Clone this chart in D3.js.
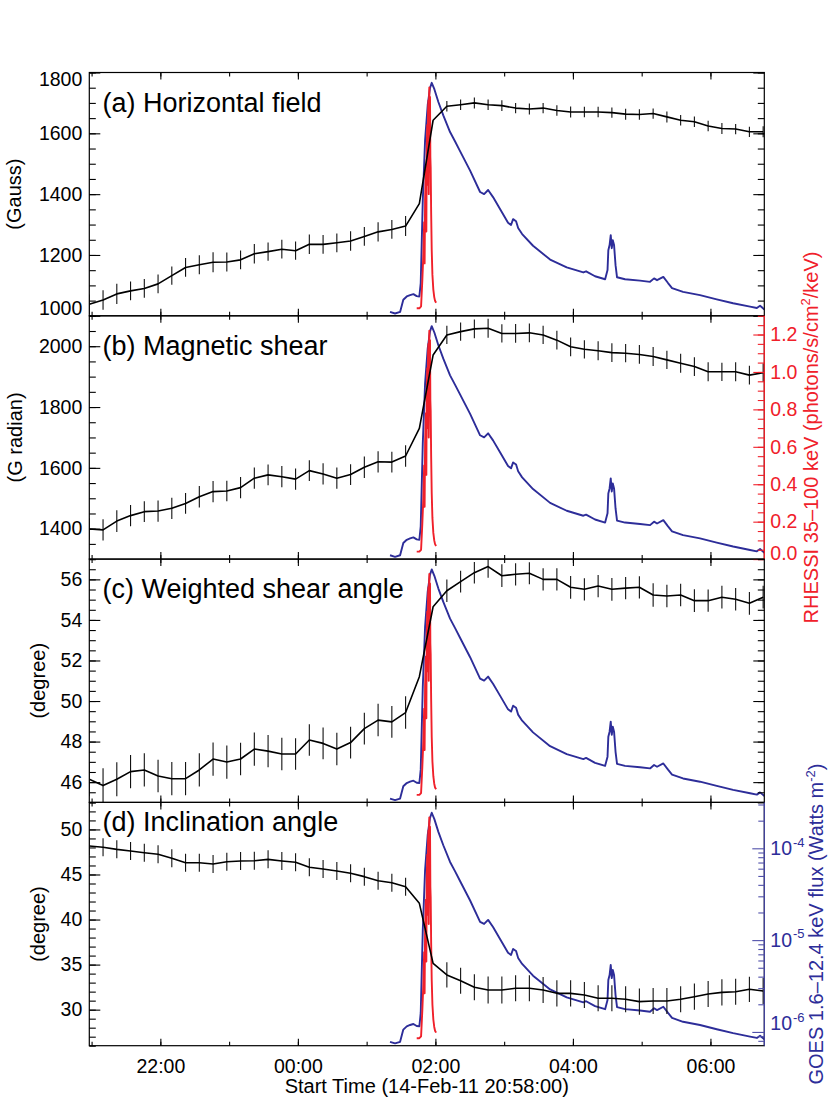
<!DOCTYPE html>
<html><head><meta charset="utf-8"><title>HMI parameters vs GOES/RHESSI</title>
<script src="https://cdn.jsdelivr.net/npm/d3@7/dist/d3.min.js"></script>
<style>html,body{margin:0;padding:0;background:#fff;}svg{display:block;}</style>
</head><body><div id="chart"></div>
<script>
// ---------------- DATA ----------------
// HMI samples: minutes after 14-Feb-11 20:58:00
const hmiMinutes = [0,12,24,36,48,60,72,84,96,108,120,132,144,156,168,180,192,204,216,228,240,252,264,276,288,300,312,324,336,348,360,372,384,396,408,420,432,444,456,468,480,492,504,516,528,540,552,564,576,588];
const horizontalField = [1038,1052,1072,1082,1090,1105,1132,1159,1168,1176,1177,1184,1204,1211,1219,1214,1235,1235,1240,1246,1261,1276,1284,1295,1369,1643,1689,1694,1700,1694,1691,1683,1680,1683,1675,1670,1670,1670,1668,1663,1662,1665,1654,1643,1638,1624,1616,1614,1605,1605];
const horizontalErr = [32,32,33,31,31,31,30,31,31,33,31,31,32,30,31,30,32,31,31,32,31,32,31,33,0,0,17,17,18,17,18,17,18,17,17,18,17,17,17,18,17,17,18,17,17,17,18,17,17,18];
const magneticShear = [1399,1396,1425,1443,1456,1458,1467,1483,1505,1522,1524,1535,1566,1577,1571,1563,1591,1580,1566,1578,1602,1620,1619,1639,1730,1971,2037,2048,2057,2059,2042,2042,2044,2037,2020,1998,1990,1985,1979,1977,1973,1966,1955,1944,1933,1916,1916,1916,1905,1913];
const magneticShearErr = [35,35,36,35,34,35,35,34,35,35,34,35,35,34,35,35,34,35,35,34,35,35,34,35,0,0,30,30,31,31,30,31,31,30,31,31,30,31,31,30,31,31,30,31,31,31,30,31,31,30];
const shearAngle = [46.14,45.83,46.14,46.52,46.60,46.30,46.17,46.17,46.60,47.14,46.99,47.14,47.63,47.53,47.39,47.39,48.08,47.91,47.63,47.95,48.64,49.06,48.97,49.43,51.20,54.65,55.44,55.89,56.33,56.63,56.18,56.25,56.30,56.00,56.00,55.61,55.51,55.67,55.51,55.57,55.61,55.23,55.18,55.23,54.95,54.95,55.12,55.02,54.82,55.12];
const shearAngleErr = [0.84,0.86,0.84,0.82,0.82,0.80,0.82,0.82,0.82,0.82,0.82,0.80,0.82,0.80,0.80,0.78,0.78,0.78,0.80,0.78,0.78,0.80,0.78,0.80,0,0,0.55,0.54,0.53,0.55,0.56,0.55,0.54,0.55,0.55,0.56,0.55,0.55,0.56,0.55,0.55,0.58,0.56,0.55,0.56,0.55,0.56,0.55,0.56,0.56];
const inclination = [48.16,48.02,47.79,47.61,47.42,47.24,46.80,46.31,46.31,46.16,46.42,46.50,46.53,46.68,46.50,46.35,45.80,45.61,45.39,45.13,44.76,44.31,44.09,43.65,41.80,35.14,33.85,33.21,32.48,32.18,32.18,32.37,32.37,32.18,31.81,31.81,31.63,31.26,31.26,31.15,30.89,30.96,30.96,31.15,31.44,31.74,31.92,31.99,32.26,32.07];
const inclinationErr = [1.0,1.0,1.0,1.0,1.0,1.0,1.0,1.0,1.0,1.0,1.0,1.0,1.0,1.0,1.0,1.0,1.0,1.0,1.0,1.0,1.0,1.0,1.0,1.0,0,0,1.4,1.45,1.45,1.5,1.5,1.45,1.45,1.45,1.45,1.45,1.45,1.45,1.45,1.45,1.45,1.45,1.45,1.45,1.45,1.45,1.45,1.45,1.4,1.45];

// GOES 1.6-12.4 keV flux (W m^-2), minutes after start
const goesMinutes = [262.4,266.8,271.2,274.0,277.0,279.9,282.8,285.7,288.0,289.2,291.0,293.0,295.3,297.3,298.8,301.1,304.6,308.9,314.8,319.2,323.5,332.3,341.0,344.5,348.0,352.3,358.4,365.4,368.0,369.8,372.4,374.2,377.7,387.2,402.1,416.6,431.1,433.5,441.3,450.1,452.2,452.9,454.0,455.0,455.9,456.8,457.9,459.2,460.5,467.5,480.6,489.3,492.8,495.4,500.9,505.0,508.5,518.1,532.9,547.5,561.8,576.6,582.5,585.3,589.1];
const goesFlux = [7.8e-7,7.5e-7,7.8e-7,1.06e-6,1.15e-6,1.19e-6,1.22e-6,1.16e-6,1.15e-6,1.61e-6,1.29e-5,5.8e-5,1.40e-4,2.14e-4,2.44e-4,2.08e-4,1.51e-4,1.08e-4,7.1e-5,5.6e-5,4.4e-5,2.7e-5,1.58e-5,1.50e-5,1.66e-5,1.39e-5,1.03e-5,7.3e-6,6.9e-6,8.0e-6,7.6e-6,6.4e-6,5.5e-6,4.1e-6,2.9e-6,2.38e-6,2.10e-6,2.16e-6,1.91e-6,1.77e-6,2.23e-6,3.67e-6,4.17e-6,5.36e-6,3.86e-6,4.72e-6,4.17e-6,2.52e-6,1.86e-6,1.77e-6,1.71e-6,1.66e-6,1.81e-6,1.73e-6,1.88e-6,1.61e-6,1.42e-6,1.29e-6,1.19e-6,1.07e-6,9.7e-7,8.9e-7,8.6e-7,9.1e-7,8.3e-7];

// RHESSI 35-100 keV (photons/s/cm^2/keV), minutes after start
const rhessiMinutes = [285.7,288.0,289.5,290.6,291.5,292.2,292.6,293.0,293.7,294.1,294.4,294.9,295.3,295.6,295.9,296.2,296.5,296.7,297.0,297.3,297.6,297.9,298.3,298.8,299.4,300.2,301.0,301.7,302.6];
const rhessiFlux = [0.04,0.04,0.05,0.19,0.33,0.50,0.28,0.62,0.78,0.45,0.88,1.02,0.70,1.10,1.15,0.65,1.18,1.22,0.95,1.17,0.85,0.79,0.55,0.35,0.22,0.14,0.10,0.08,0.07];

// Tick labels
const timeTickLabels = ["22:00","00:00","02:00","04:00","06:00"];
const ticksA = [1000,1200,1400,1600,1800];
const ticksB = [1400,1600,1800,2000];
const ticksC = [46,48,50,52,54,56];
const ticksD = [30,35,40,45,50];
const rhessiTicks = [0.0,0.2,0.4,0.6,0.8,1.0,1.2];
const goesTicks = [1e-6,1e-5,1e-4];

// ---------------- LAYOUT ----------------
const FONT = '"Liberation Sans", Arial, Helvetica, sans-serif';
const BLUE = "#2d2d99", RED = "#f0202a";
const X0 = 89.3, X1 = 764.3, TOP0 = 72.5, PH = 243.3;
const t0 = Date.UTC(2011, 1, 14, 20, 58, 0);
const toDate = m => new Date(t0 + m * 60000);
const x = d3.scaleUtc().domain([toDate(0), toDate(589)]).range([X0, X1]);
const goesDomain = [Math.pow(10, -6.15), Math.pow(10, -3.5)];
const rhessiDomain = [0, 1.3];

const panels = [
  {label: "(a) Horizontal field", title: "(Gauss)", v: horizontalField, e: horizontalErr, domain: [1000, 1800], ticks: ticksA, minorStep: 50, labelDy: 39, titleX: 21},
  {label: "(b) Magnetic shear", title: "(G radian)", v: magneticShear, e: magneticShearErr, domain: [1300, 2100], ticks: ticksB, minorStep: 50, labelDy: 39, titleX: 21.5},
  {label: "(c) Weighted shear angle", title: "(degree)", v: shearAngle, e: shearAngleErr, domain: [45, 57], ticks: ticksC, minorStep: 0.5, labelDy: 39, titleX: 45},
  {label: "(d) Inclination angle", title: "(degree)", v: inclination, e: inclinationErr, domain: [26, 53], ticks: ticksD, minorStep: 1, labelDy: 28.3, titleX: 45}
];

const svg = d3.select("#chart").append("svg")
  .attr("width", 830).attr("height", 1111)
  .attr("font-family", FONT);
svg.append("rect").attr("width", 830).attr("height", 1111).attr("fill", "#fff");
const defs = svg.append("defs");

function styleAxis(g, color, size) {
  g.attr("font-family", FONT).attr("font-size", size || 19.5).attr("color", color || "#000");
  g.select(".domain").remove();
  g.selectAll(".tick line").attr("stroke-width", 1.1);
}
function minorValues(domain, step) {
  const out = [];
  const s = Math.ceil(domain[0] / step - 1e-9), e = Math.floor(domain[1] / step + 1e-9);
  for (let i = s; i <= e; i++) out.push(+(i * step).toFixed(6));
  return out;
}
function clampLabels(g, scale, top, bot, loM, hiM) {
  g.selectAll(".tick text").attr("y", d => {
    const py = scale(d);
    if (py < top + loM) return top + loM - py;
    if (py > bot - hiM) return bot - hiM - py;
    return 0;
  });
}

const hourTicks = x.ticks(d3.utcHour.every(1));
const majorDates = timeTickLabels.map(s => {
  const [h, m] = s.split(":").map(Number);
  const day = h < 20 ? 15 : 14;
  return new Date(Date.UTC(2011, 1, day, h, m, 0));
});

panels.forEach((p, k) => {
  const top = TOP0 + k * PH, bot = top + PH;
  const y = d3.scaleLinear().domain(p.domain).range([bot, top]);
  const yG = d3.scaleLog().domain(goesDomain).range([bot, top]);
  const yR = d3.scaleLinear().domain(rhessiDomain).range([bot, top]);

  const cid = "clip" + k;
  defs.append("clipPath").attr("id", cid).append("rect")
    .attr("x", X0).attr("y", top).attr("width", X1 - X0).attr("height", PH);
  const plot = svg.append("g").attr("clip-path", `url(#${cid})`);

  // GOES
  plot.append("path")
    .datum(goesMinutes.map((m, i) => [m, goesFlux[i]]))
    .attr("fill", "none").attr("stroke", BLUE).attr("stroke-width", 1.9)
    .attr("stroke-linejoin", "round")
    .attr("d", d3.line().x(d => x(toDate(d[0]))).y(d => yG(d[1])));
  // RHESSI
  plot.append("path")
    .datum(rhessiMinutes.map((m, i) => [m, rhessiFlux[i]]))
    .attr("fill", "none").attr("stroke", RED).attr("stroke-width", 1.9)
    .attr("stroke-linejoin", "round")
    .attr("d", d3.line().x(d => x(toDate(d[0]))).y(d => yR(d[1])));
  // HMI parameter
  const pts = hmiMinutes.map((m, i) => ({m, v: p.v[i], e: p.e[i]}));
  plot.selectAll("line.err").data(pts.filter(d => d.e > 0)).join("line")
    .attr("class", "err")
    .attr("x1", d => x(toDate(d.m))).attr("x2", d => x(toDate(d.m)))
    .attr("y1", d => y(d.v - d.e)).attr("y2", d => y(d.v + d.e))
    .attr("stroke", "#111").attr("stroke-width", 1.1);
  plot.append("path").datum(pts)
    .attr("fill", "none").attr("stroke", "#000").attr("stroke-width", 1.6)
    .attr("stroke-linejoin", "round")
    .attr("d", d3.line().x(d => x(toDate(d.m))).y(d => y(d.v)));

  // frame
  svg.append("rect").attr("x", X0).attr("y", top).attr("width", X1 - X0).attr("height", PH)
    .attr("fill", "none").attr("stroke", "#000").attr("stroke-width", 1.2);

  // x ticks (top and bottom, inward)
  const gxb1 = svg.append("g").attr("transform", `translate(0,${bot})`)
    .call(d3.axisBottom(x).tickValues(hourTicks).tickSizeInner(-4).tickSizeOuter(0).tickFormat(""));
  styleAxis(gxb1);
  const gxb2 = svg.append("g").attr("transform", `translate(0,${bot})`)
    .call(d3.axisBottom(x).tickValues(majorDates).tickSizeInner(-7).tickSizeOuter(0).tickPadding(13)
      .tickFormat((d, i) => k === 3 ? timeTickLabels[i] : ""));
  styleAxis(gxb2, "#000", 19.5);
  const gxt1 = svg.append("g").attr("transform", `translate(0,${top})`)
    .call(d3.axisTop(x).tickValues(hourTicks).tickSizeInner(-4).tickSizeOuter(0).tickFormat(""));
  styleAxis(gxt1);
  const gxt2 = svg.append("g").attr("transform", `translate(0,${top})`)
    .call(d3.axisTop(x).tickValues(majorDates).tickSizeInner(-7).tickSizeOuter(0).tickFormat(""));
  styleAxis(gxt2);

  // left axis
  const minors = minorValues(p.domain, p.minorStep);
  const gl1 = svg.append("g").attr("transform", `translate(${X0},0)`)
    .call(d3.axisLeft(y).tickValues(minors).tickSizeInner(-6.5).tickSizeOuter(0).tickFormat(""));
  styleAxis(gl1);
  const gl2 = svg.append("g").attr("transform", `translate(${X0},0)`)
    .call(d3.axisLeft(y).tickValues(p.ticks).tickSizeInner(-11).tickSizeOuter(0).tickPadding(7).tickFormat(d3.format("d")));
  styleAxis(gl2, "#000", 19.5);
  clampLabels(gl2, y, top, bot, 6.5, 8);

  // right axis
  if (k === 0 || k === 2) {
    const gr1 = svg.append("g").attr("transform", `translate(${X1},0)`)
      .call(d3.axisRight(y).tickValues(minors).tickSizeInner(-6.5).tickSizeOuter(0).tickFormat(""));
    styleAxis(gr1);
    const gr2 = svg.append("g").attr("transform", `translate(${X1},0)`)
      .call(d3.axisRight(y).tickValues(p.ticks).tickSizeInner(-11).tickSizeOuter(0).tickFormat(""));
    styleAxis(gr2);
  } else if (k === 1) {
    svg.append("line").attr("x1", X1).attr("x2", X1).attr("y1", top).attr("y2", bot)
      .attr("stroke", RED).attr("stroke-width", 1.3);
    const gr1 = svg.append("g").attr("transform", `translate(${X1},0)`)
      .call(d3.axisRight(yR).tickValues(minorValues(rhessiDomain, 0.05)).tickSizeInner(-6.5).tickSizeOuter(0).tickFormat(""));
    styleAxis(gr1, RED);
    const gr2 = svg.append("g").attr("transform", `translate(${X1},0)`)
      .call(d3.axisRight(yR).tickValues(rhessiTicks).tickSizeInner(-11).tickSizeOuter(0).tickPadding(6).tickFormat(d3.format(".1f")));
    styleAxis(gr2, RED, 19.5);
    clampLabels(gr2, yR, top, bot, 6.5, 6);
    gr2.selectAll(".tick text").attr("fill", RED);
  } else {
    svg.append("line").attr("x1", X1).attr("x2", X1).attr("y1", top).attr("y2", bot)
      .attr("stroke", "#4848a8").attr("stroke-width", 1.2);
    const gm = [];
    [-7, -6, -5, -4].forEach(e => { for (let j = 2; j <= 9; j++) { const v = j * Math.pow(10, e); if (v >= goesDomain[0] && v <= goesDomain[1]) gm.push(v); } });
    const gr1 = svg.append("g").attr("transform", `translate(${X1},0)`)
      .call(d3.axisRight(yG).tickValues(gm).tickSizeInner(-6).tickSizeOuter(0).tickFormat(""));
    styleAxis(gr1, "#5050aa");
    const gr2 = svg.append("g").attr("transform", `translate(${X1},0)`)
      .call(d3.axisRight(yG).tickValues(goesTicks).tickSizeInner(-12).tickSizeOuter(0).tickPadding(6).tickFormat(""));
    styleAxis(gr2, "#5050aa", 19.5);
    gr2.selectAll(".tick text").each(function (d) {
      const t = d3.select(this).attr("fill", BLUE);
      const py = yG(d);
      const off = py > bot - 22.4 ? (bot - 22.4 - py) : 0;
      t.attr("y", off);
      t.append("tspan").text("10");
      t.append("tspan").attr("font-size", 13).attr("dy", -8.5).attr("dx", 1).text(String(Math.round(Math.log10(d))));
    });
  }

  // panel label
  svg.append("text").attr("x", 102.5).attr("y", top + p.labelDy)
    .attr("font-size", 27).attr("fill", "#000").text(p.label);
  // y title
  svg.append("text")
    .attr("transform", `translate(${p.titleX},${(top + bot) / 2}) rotate(-90)`)
    .attr("text-anchor", "middle").attr("font-size", 20).attr("fill", "#000").text(p.title);
});

// x title
svg.append("text").attr("x", (X0 + X1) / 2).attr("y", 1093.3)
  .attr("text-anchor", "middle").attr("font-size", 20).attr("fill", "#000")
  .text("Start Time (14-Feb-11 20:58:00)");

// RHESSI title (panel b)
{
  const cy = TOP0 + PH * 1.5;
  const t = svg.append("text")
    .attr("transform", `translate(817.5,${cy}) rotate(-90)`)
    .attr("text-anchor", "middle").attr("font-size", 20).attr("fill", RED);
  t.append("tspan").text("RHESSI 35\u2013100 keV (photons/s/cm");
  t.append("tspan").attr("font-size", 13).attr("dy", -8).text("2");
  t.append("tspan").attr("dy", 8).text("/keV)");
}
// GOES title (panel d)
{
  const cy = TOP0 + PH * 3.5;
  const t = svg.append("text")
    .attr("transform", `translate(823,${cy}) rotate(-90)`)
    .attr("text-anchor", "middle").attr("font-size", 20).attr("fill", BLUE);
  t.append("tspan").text("GOES 1.6\u201312.4 keV flux (Watts m");
  t.append("tspan").attr("font-size", 13).attr("dy", -8).text("-2");
  t.append("tspan").attr("dy", 8).text(")");
}
</script>
</body></html>
